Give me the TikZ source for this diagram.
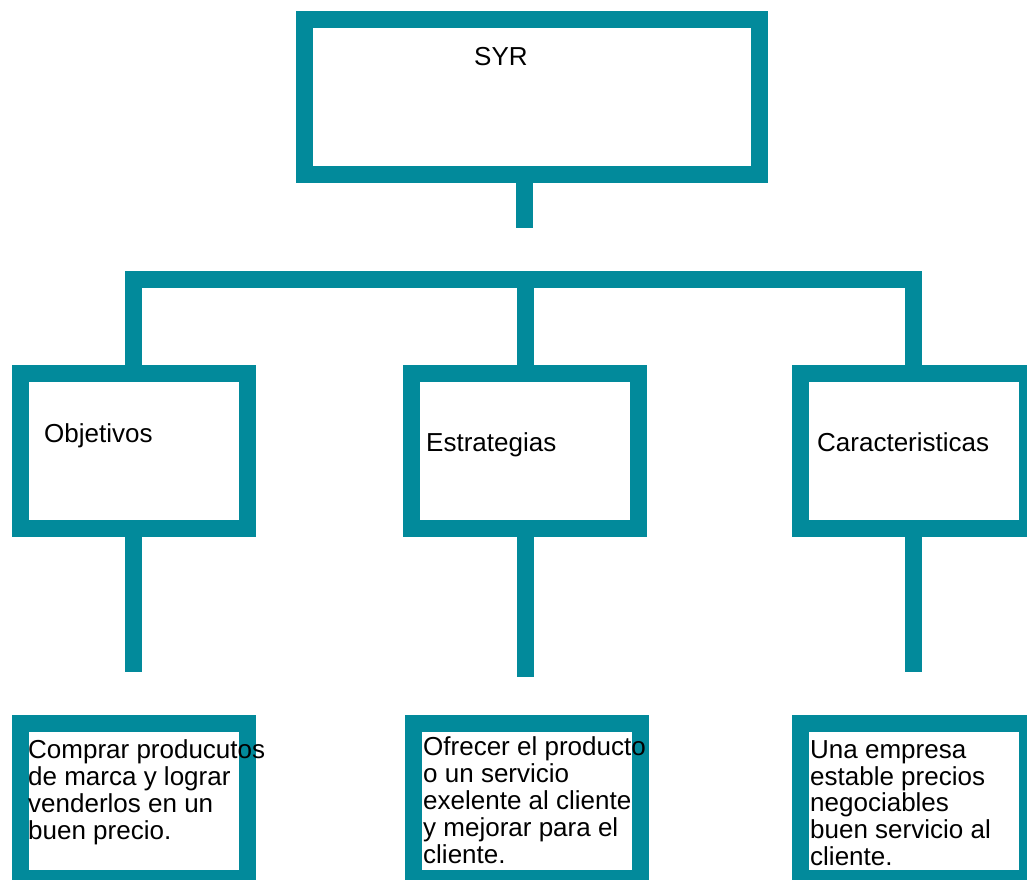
\documentclass[tikz,border=0pt]{standalone}
\usepackage{fontspec}
\setmainfont{Liberation Sans}
\usetikzlibrary{positioning}
\definecolor{ChartTeal}{HTML}{028A9B}

\begin{document}
\begin{tikzpicture}[x=1pt,y=-1pt,line cap=butt,line join=miter,
  box/.style={draw=ChartTeal,line width=17pt,minimum width=227pt,minimum height=155pt,inner sep=0pt},
  link/.style={ChartTeal,line width=17pt},
  txt/.style={anchor=base west,inner sep=0pt,font=\fontsize{26}{26.8}\selectfont,align=left}]
  \useasboundingbox (0,0) rectangle (1027,879);
  \node[box,minimum width=455pt] (syr) at (531.5,96.75) {};
  \node[box] (obj) at (133.75,450.5) {};\node[box] (estr) at (525,450.5) {};\node[box] (car) at (913.5,450.5) {};
  \node[box] (compra) at (133.75,801.25) {};\node[box] (ofrece) at (527,801.25) {};\node[box] (empresa) at (913.5,801.25) {};
  \coordinate (bus) at (0,279);\coordinate (top) at (524,228);
  \coordinate (objend) at (obj.south |- 0,672);\coordinate (estrend) at (estr.south |- 0,677);\coordinate (carend) at (car.south |- 0,672);
  \draw[link] (syr.south -| top) -- (top);
  \draw[link] (obj.north) -- (obj.north |- bus) -- (car.north |- bus) -- (car.north);
  \draw[link] (estr.north) -- (estr.north |- bus);
  \foreach \B in {obj,estr,car}{\draw[link] (\B.south) -- (\B end);}
  % multi-line text: base is the last line
  \node[txt] (syrtxt) at (474,65) {SYR};
  \node[txt] (objtxt) at (44,442) {Objetivos};\node[txt] (estrtxt) at (426,451) {Estrategias};\node[txt] (cartxt) at (817,451) {Caracteristicas};
  \node[txt] (compratxt) at (28,839) {Comprar producutos\\de marca y lograr\\venderlos en un\\buen precio.};
  \node[txt] (ofrecetxt) at (423,863) {Ofrecer el producto\\o un servicio\\exelente al cliente\\y mejorar para el\\cliente.};
  \node[txt] (empresatxt) at (810,865.5) {Una empresa\\estable precios\\negociables\\buen servicio al\\cliente.};
\end{tikzpicture}
\end{document}
